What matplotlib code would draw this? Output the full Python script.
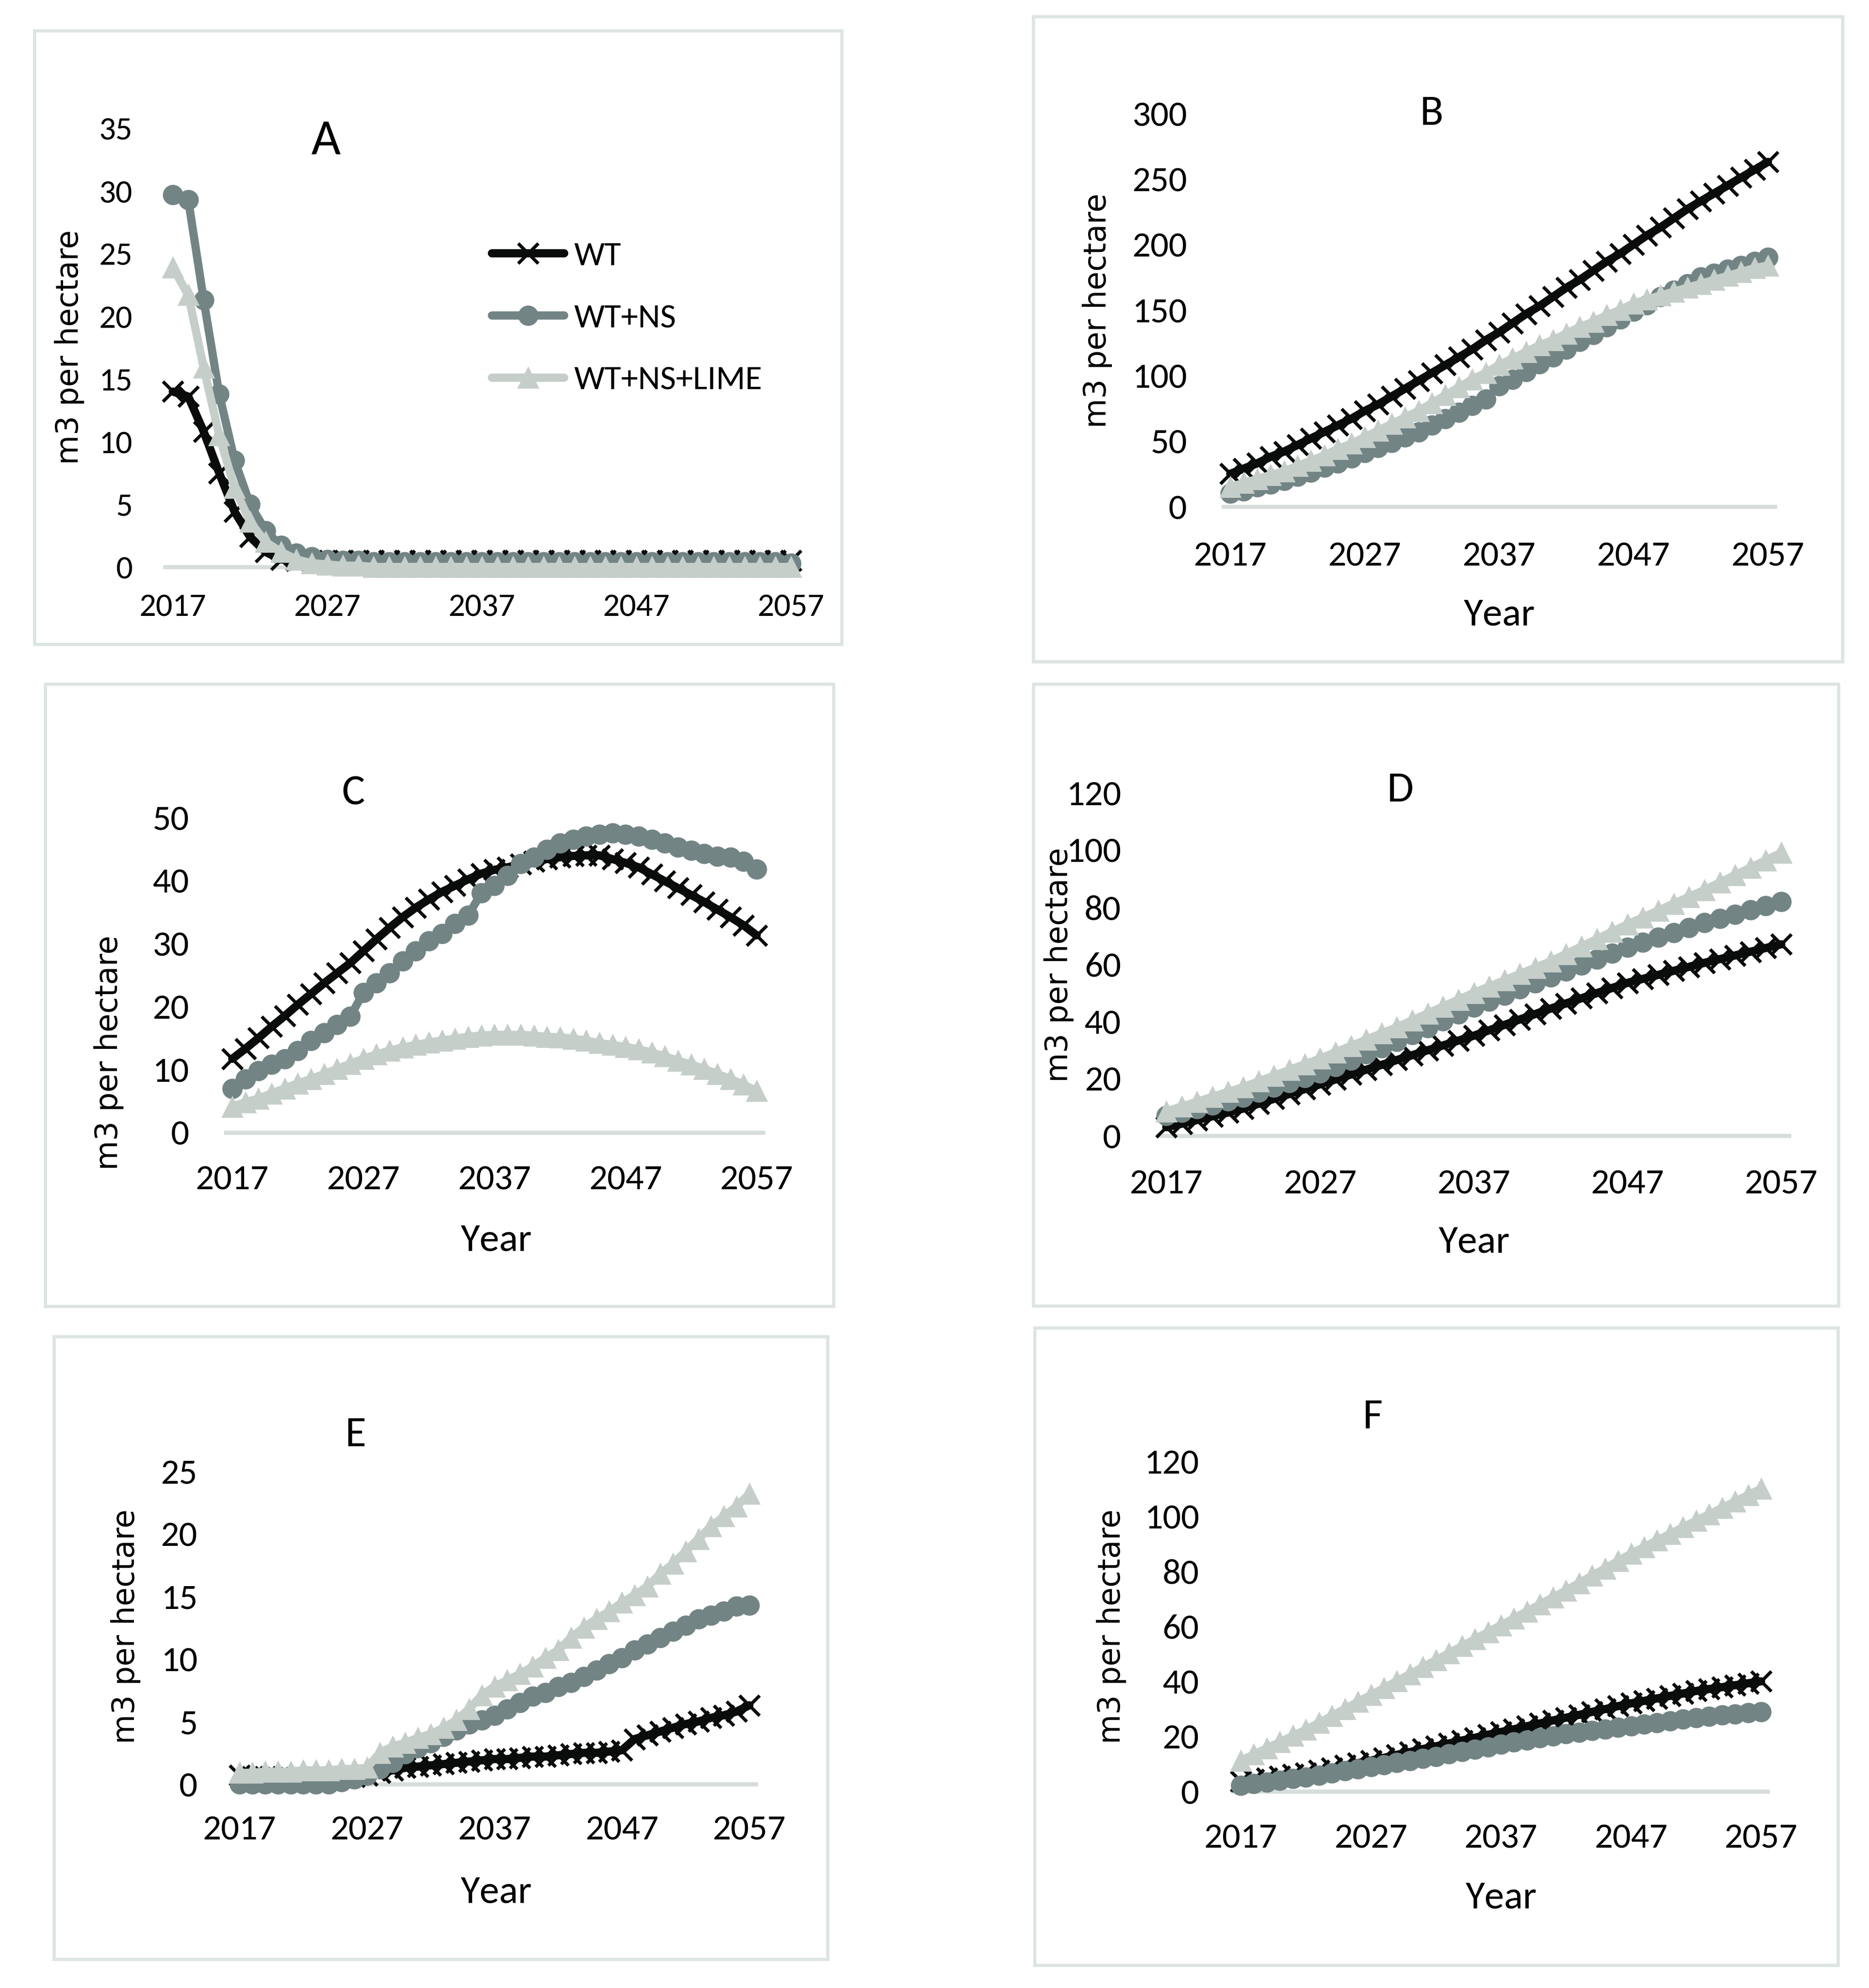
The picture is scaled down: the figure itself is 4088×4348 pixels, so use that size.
"""Six-panel volume chart (m3 per hectare, 2017-2057) for WT, WT+NS, WT+NS+LIME."""

import matplotlib
matplotlib.use("Agg")
import matplotlib.pyplot as plt
from matplotlib import font_manager
from matplotlib.patches import Rectangle

# ── Data ─────────────────────────────────────────────────────────────
YEARS = list(range(2017, 2058))
XTICKS = [2017, 2027, 2037, 2047, 2057]
SERIES_NAMES = ["WT", "WT+NS", "WT+NS+LIME"]

A_WT = [14.0, 13.6, 10.8, 7.5, 4.4, 2.4, 1.2, 0.6, 0.5, 0.5,
        0.5, 0.5, 0.5, 0.5, 0.5, 0.5, 0.5, 0.5, 0.5, 0.5,
        0.5, 0.5, 0.5, 0.5, 0.5, 0.5, 0.5, 0.5, 0.5, 0.5,
        0.5, 0.5, 0.5, 0.5, 0.5, 0.5, 0.5, 0.5, 0.5, 0.5,
        0.5]
A_NS = [29.7, 29.3, 21.3, 13.8, 8.5, 5.0, 2.9, 1.7, 1.1, 0.8,
        0.6, 0.5, 0.5, 0.4, 0.4, 0.4, 0.4, 0.4, 0.4, 0.4,
        0.4, 0.4, 0.4, 0.4, 0.4, 0.4, 0.4, 0.4, 0.4, 0.4,
        0.4, 0.4, 0.4, 0.4, 0.4, 0.4, 0.4, 0.4, 0.4, 0.4,
        0.3]
A_LIME = [23.9, 21.7, 15.9, 10.5, 6.3, 3.6, 2.0, 1.2, 0.6, 0.3,
          0.2, 0.1, 0.1, 0.0, 0.0, 0.0, 0.0, 0.0, 0.0, 0.0,
          0.0, 0.0, 0.0, 0.0, 0.0, 0.0, 0.0, 0.0, 0.0, 0.0,
          0.0, 0.0, 0.0, 0.0, 0.0, 0.0, 0.0, 0.0, 0.0, 0.0,
          0.0]

B_WT = [25, 29, 33, 38, 42, 47, 52, 57, 62, 67,
        73, 78, 84, 90, 96, 102, 108, 114, 120, 127,
        133, 140, 147, 153, 160, 167, 173, 180, 187, 193,
        200, 207, 213, 220, 227, 233, 239, 245, 251, 257,
        263]
B_NS = [10, 12, 15, 17, 20, 23, 26, 30, 33, 37,
        41, 45, 49, 53, 57, 62, 67, 72, 77, 82,
        92, 97, 103, 109, 114, 120, 126, 131, 137, 143,
        149, 154, 160, 165, 170, 175, 178, 181, 184, 187,
        190]
B_LIME = [15, 18, 21, 24, 27, 31, 35, 39, 44, 48,
          53, 58, 63, 68, 73, 79, 85, 91, 97, 102,
          108, 113, 118, 123, 127, 132, 137, 141, 146, 150,
          155, 158, 161, 164, 167, 170, 173, 176, 179, 182,
          184]

C_WT = [11.7, 13.3, 15.0, 16.8, 18.5, 20.3, 22.0, 23.7, 25.3, 26.9,
        28.8, 30.7, 32.5, 34.2, 35.7, 37.0, 38.2, 39.2, 40.2, 41.1,
        41.7, 42.1, 42.6, 43.0, 43.4, 43.7, 43.9, 44.0, 44.0, 43.4,
        42.8, 42.1, 41.0, 39.9, 38.8, 37.7, 36.6, 35.4, 34.2, 32.9,
        31.3]
C_NS = [7.0, 8.5, 9.8, 10.8, 11.7, 13.0, 14.6, 15.8, 17.1, 18.4,
        22.2, 23.7, 25.3, 27.2, 28.8, 30.4, 31.6, 33.2, 34.5, 38.0,
        39.2, 40.8, 42.7, 43.7, 44.9, 45.9, 46.5, 47.0, 47.3, 47.5,
        47.3, 47.0, 46.5, 45.9, 45.3, 44.8, 44.3, 43.8, 43.7, 43.0,
        41.8]
C_LIME = [4.1, 4.8, 5.4, 6.2, 7.0, 7.8, 8.5, 9.3, 10.1, 10.9,
          11.7, 12.4, 13.0, 13.5, 13.9, 14.3, 14.6, 14.9, 15.2, 15.4,
          15.5, 15.5, 15.5, 15.4, 15.2, 15.1, 14.9, 14.6, 14.2, 13.9,
          13.6, 13.2, 12.7, 12.1, 11.4, 10.8, 10.1, 9.3, 8.5, 7.6,
          6.6]

D_WT = [3.0, 4.2, 5.5, 6.8, 8.1, 9.5, 11.2, 12.9, 14.6, 16.3,
        18.0, 19.7, 21.4, 23.1, 24.8, 26.5, 28.2, 29.9, 31.6, 33.3,
        35.0, 36.9, 38.8, 40.7, 42.6, 44.5, 46.3, 48.1, 49.9, 51.7,
        53.5, 54.9, 56.3, 57.7, 59.1, 60.5, 61.8, 63.1, 64.4, 65.7,
        67.0]
D_NS = [7.0, 8.2, 9.5, 10.8, 12.1, 13.5, 15.2, 16.9, 18.6, 20.3,
        22.0, 24.2, 26.4, 28.6, 30.8, 33.0, 35.4, 37.8, 40.2, 42.6,
        45.0, 47.1, 49.2, 51.3, 53.4, 55.5, 57.6, 59.7, 61.8, 63.9,
        66.0, 67.7, 69.4, 71.1, 72.8, 74.5, 76.0, 77.5, 79.0, 80.5,
        82.0]
D_LIME = [8.5, 10.2, 11.9, 13.6, 15.3, 17.0, 19.0, 21.0, 23.0, 25.0,
          27.0, 29.2, 31.4, 33.6, 35.8, 38.0, 40.4, 42.8, 45.2, 47.6,
          50.0, 52.2, 54.4, 56.6, 58.8, 61.0, 63.6, 66.2, 68.8, 71.4,
          74.0, 76.4, 78.8, 81.2, 83.6, 86.0, 88.6, 91.2, 93.8, 96.4,
          99.0]

E_WT = [0.7, 0.6, 0.6, 0.5, 0.5, 0.5, 0.5, 0.5, 0.6, 0.6,
        0.7, 0.9, 1.1, 1.3, 1.4, 1.5, 1.6, 1.7, 1.8, 1.9,
        2.0, 2.0, 2.1, 2.2, 2.2, 2.3, 2.4, 2.5, 2.5, 2.6,
        2.7, 3.6, 3.9, 4.2, 4.5, 4.8, 5.0, 5.3, 5.5, 5.8,
        6.3]
E_NS = [0.0, 0.0, 0.0, 0.0, 0.0, 0.0, 0.0, 0.0, 0.2, 0.4,
        0.7, 1.2, 1.7, 2.4, 2.9, 3.3, 3.8, 4.3, 4.8, 5.1,
        5.5, 6.0, 6.5, 7.0, 7.3, 7.8, 8.1, 8.6, 9.1, 9.6,
        10.1, 10.7, 11.2, 11.7, 12.2, 12.7, 13.2, 13.5, 13.8, 14.2,
        14.3]
E_LIME = [0.9, 0.9, 1.0, 1.0, 1.0, 1.1, 1.1, 1.1, 1.2, 1.2,
          1.3, 2.5, 3.0, 3.3, 3.7, 4.0, 4.5, 5.1, 6.0, 7.1,
          7.8, 8.3, 8.8, 9.4, 10.1, 10.7, 11.7, 12.5, 13.2, 13.8,
          14.5, 15.1, 15.8, 16.8, 17.6, 18.6, 19.6, 20.6, 21.4, 22.2,
          23.2]

F_WT = [3.7, 4.3, 4.9, 5.5, 6.1, 6.7, 7.6, 8.5, 9.4, 10.3,
        11.2, 12.2, 13.3, 14.3, 15.4, 16.4, 17.4, 18.5, 19.5, 20.6,
        21.6, 22.6, 23.7, 24.7, 25.8, 26.8, 27.8, 28.9, 29.9, 31.0,
        32.0, 32.9, 33.8, 34.7, 35.6, 36.5, 37.2, 37.9, 38.6, 39.3,
        40.0]
F_NS = [2.2, 2.8, 3.4, 4.0, 4.6, 5.2, 5.9, 6.7, 7.4, 8.2,
        8.9, 9.7, 10.4, 11.2, 11.9, 12.7, 13.6, 14.5, 15.3, 16.2,
        17.1, 17.9, 18.6, 19.4, 20.1, 20.9, 21.5, 22.1, 22.6, 23.2,
        23.8, 24.4, 25.0, 25.6, 26.2, 26.8, 27.2, 27.7, 28.1, 28.6,
        29.0]
F_LIME = [11.2, 13.4, 15.7, 17.9, 20.2, 22.4, 24.9, 27.4, 30.0, 32.5,
          35.0, 37.5, 40.1, 42.6, 45.2, 47.7, 50.2, 52.8, 55.3, 57.9,
          60.4, 62.9, 65.4, 68.0, 70.5, 73.0, 75.7, 78.4, 81.0, 83.7,
          86.4, 88.8, 91.2, 93.6, 96.0, 98.4, 100.7, 103.0, 105.4, 107.7,
          110.0]

# ── Style ────────────────────────────────────────────────────────────
W, H, DPI = 4088, 4348, 200
PX = 72.0 / DPI  # points per pixel

COLORS = ["#0a0c0b", "#738485", "#c5cec9"]
MARKERS = ["x", "o", "^"]
MSIZE = [16, 15, 16]
AXIS_COLOR = "#d6dddb"
BOX_COLOR = "#dde5e3"

names = {f.name for f in font_manager.fontManager.ttflist}
if "Carlito" in names:
    TICK_FONT, K = "Carlito", 1.0
elif "Liberation Sans Narrow" in names:
    TICK_FONT, K = "Liberation Sans Narrow", 0.95
else:
    TICK_FONT, K = "DejaVu Sans", 0.8
LABEL_FONT = "DejaVu Sans"

# layout in image pixels: x of 2017 / 2057, y of 0 / top tick, frame box,
# y tick pad, x tick offset, ylabel centre, title centre, "Year" centre
PANELS = [
    dict(title="A", data=(A_WT, A_NS, A_LIME), ymax=35, ystep=5,
         x0=378, x1=1730, y0=1240, y1=281, box=(75, 67, 1841, 1409),
         ypad=71, xoff=88, ylab=(152, 759), tpos=(713, 307), tsize=40,
         tick=26, year=None, legend=True),
    dict(title="B", data=(B_WT, B_NS, B_LIME), ymax=300, ystep=50,
         x0=2691, x1=3867, y0=1108, y1=248, box=(2260, 36, 4030, 1447),
         ypad=80, xoff=109, ylab=(2400, 679), tpos=(3131, 248), tsize=34,
         tick=28.5, year=(3279, 1345), legend=False),
    dict(title="C", data=(C_WT, C_NS, C_LIME), ymax=50, ystep=10,
         x0=508, x1=1655, y0=2477, y1=1788, box=(99, 1496, 1823, 2857),
         ypad=80, xoff=104, ylab=(238, 2302), tpos=(773, 1735), tsize=34,
         tick=28.5, year=(1085, 2712), legend=False),
    dict(title="D", data=(D_WT, D_NS, D_LIME), ymax=120, ystep=20,
         x0=2551, x1=3896, y0=2484, y1=1734, box=(2260, 1496, 4021, 2856),
         ypad=82, xoff=106, ylab=(2316, 2110), tpos=(3063, 1728), tsize=34,
         tick=28.5, year=(3224, 2716), legend=False),
    dict(title="E", data=(E_WT, E_NS, E_LIME), ymax=25, ystep=5,
         x0=524, x1=1639, y0=3902, y1=3218, box=(118, 2923, 1810, 4285),
         ypad=78, xoff=101, ylab=(275, 3557), tpos=(777, 3138), tsize=34,
         tick=28.5, year=(1085, 4138), legend=False),
    dict(title="F", data=(F_WT, F_NS, F_LIME), ymax=120, ystep=20,
         x0=2714, x1=3852, y0=3918, y1=3196, box=(2263, 2904, 4020, 4298),
         ypad=77, xoff=103, ylab=(2431, 3557), tpos=(3002, 3099), tsize=34,
         tick=28.5, year=(3283, 4151), legend=False),
]


def fx(x):
    return x / W


def fy(y):
    return 1 - y / H


fig = plt.figure(figsize=(W / DPI, H / DPI), dpi=DPI)

for p in PANELS:
    # frame around the panel
    l, t, r, b = p["box"]
    fig.add_artist(Rectangle((fx(l), fy(b)), (r - l) / W, (b - t) / H,
                             transform=fig.transFigure, fill=False,
                             ec=BOX_COLOR, lw=7 * PX))

    step = (p["x1"] - p["x0"]) / (YEARS[-1] - YEARS[0])
    left = p["x0"] - 0.5 * step
    right = p["x1"] + 0.5 * step
    ax = fig.add_axes([fx(left), fy(p["y0"]), (right - left) / W, (p["y0"] - p["y1"]) / H])
    ax.set_xlim(YEARS[0] - 0.5, YEARS[-1] + 0.5)
    ax.set_ylim(0, p["ymax"])
    ax.patch.set_alpha(0)

    for i, (vals, name) in enumerate(zip(p["data"], SERIES_NAMES)):
        ax.plot(YEARS, vals, color=COLORS[i], lw=18 * PX, marker=MARKERS[i],
                ms=MSIZE[i], mew=2.6 if MARKERS[i] == "x" else 1,
                mfc=COLORS[i], mec=COLORS[i], label=name, clip_on=False,
                solid_capstyle="round", solid_joinstyle="round", zorder=3 + i)

    for side in ("top", "right", "left"):
        ax.spines[side].set_visible(False)
    ax.spines["bottom"].set_color(AXIS_COLOR)
    ax.spines["bottom"].set_linewidth(9 * PX)
    ax.spines["bottom"].set_zorder(1)

    ax.set_xticks(XTICKS, [str(y) for y in XTICKS], va="center",
                  fontfamily=TICK_FONT, fontsize=p["tick"] * K)
    yt = list(range(0, p["ymax"] + 1, p["ystep"]))
    ax.set_yticks(yt, [str(v) for v in yt], fontfamily=TICK_FONT, fontsize=p["tick"] * K)
    ax.tick_params(axis="x", length=0, pad=p["xoff"] * PX)
    ax.tick_params(axis="y", length=0, pad=p["ypad"] * PX)

    fig.text(fx(p["ylab"][0]), fy(p["ylab"][1]), "m3 per hectare", rotation=90,
             ha="center", va="center", fontfamily=LABEL_FONT, fontsize=24)
    fig.text(fx(p["tpos"][0]), fy(p["tpos"][1]), p["title"], ha="center", va="center",
             fontfamily=TICK_FONT, fontsize=p["tsize"] * K)
    if p["year"]:
        fig.text(fx(p["year"][0]), fy(p["year"][1]), "Year", ha="center", va="center",
                 fontfamily=TICK_FONT, fontsize=31 * K)

    if p["legend"]:
        ax.legend(loc="upper left", bbox_to_anchor=(fx(1076), fy(528)),
                  bbox_transform=fig.transFigure, frameon=False,
                  prop={"family": TICK_FONT, "size": 27 * K},
                  handlelength=2.1, handletextpad=0.3, labelspacing=0.95,
                  borderpad=0, borderaxespad=0, numpoints=1)

fig.savefig("out.png", dpi=DPI)
